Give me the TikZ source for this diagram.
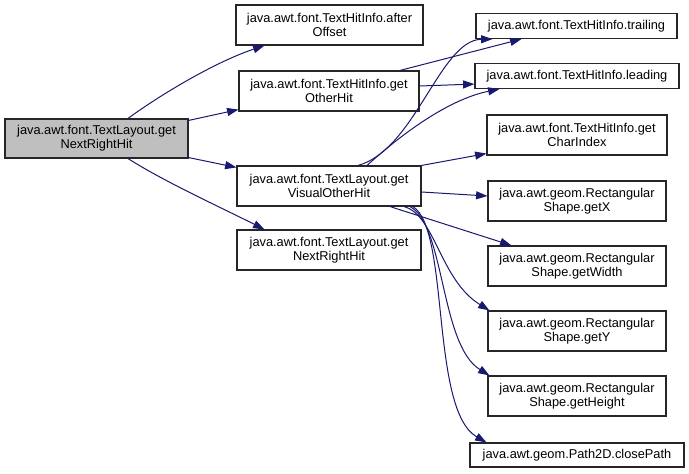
\documentclass[tikz,border=0pt]{standalone}
\usepackage{fontspec}
\setmainfont{Liberation Sans}
\usetikzlibrary{arrows.meta,calc}
\definecolor{edgeblue}{HTML}{191970}
\definecolor{boxgrey}{HTML}{BFBFBF}
\begin{document}
\begin{tikzpicture}[x=0.75pt,y=-0.75pt,
  box/.style={draw=black!85,line width=0.85pt,fill=white,inner sep=0pt,align=center,
    font=\fontsize{9.6}{10.5}\selectfont,minimum height=30pt},
  onebox/.style={box,minimum height=18.75pt},
  edge/.style={draw=edgeblue,line width=0.75pt,-{Triangle[length=8.5pt,width=6pt]}}]
\path[use as bounding box,fill=white] (0,0) rectangle (689,474);

\node[box,fill=boxgrey,minimum width=137.25pt,minimum height=29.25pt] (main) at (96.5,138.5) {java.awt.font.TextLayout.get\\NextRightHit};
\node[box,minimum width=140.25pt] (after) at (329.5,25) {java.awt.font.TextHitInfo.after\\Offset};
\node[box,minimum width=135pt] (other) at (329,91) {java.awt.font.TextHitInfo.get\\OtherHit};
\node[box,minimum width=138pt] (visual) at (329,186) {java.awt.font.TextLayout.get\\VisualOtherHit};
\node[box,minimum width=138pt] (nrh) at (329,250) {java.awt.font.TextLayout.get\\NextRightHit};
\node[onebox,minimum width=150.75pt] (trailing) at (576.5,26) {java.awt.font.TextHitInfo.trailing};
\node[onebox,minimum width=153pt] (leading) at (577,76) {java.awt.font.TextHitInfo.leading};
\node[box,minimum width=135pt] (charidx) at (577,135) {java.awt.font.TextHitInfo.get\\CharIndex};
\node[box,minimum width=133.5pt] (getx) at (577,201) {java.awt.geom.Rectangular\\Shape.getX};
\node[box,minimum width=133.5pt] (getw) at (577,266) {java.awt.geom.Rectangular\\Shape.getWidth};
\node[box,minimum width=133.5pt] (gety) at (577,331) {java.awt.geom.Rectangular\\Shape.getY};
\node[box,minimum width=133.5pt] (geth) at (577,396) {java.awt.geom.Rectangular\\Shape.getHeight};
\node[onebox,minimum width=160.5pt,minimum height=18pt] (close) at (577,455) {java.awt.geom.Path2D.closePath};

% edges from main
\draw[edge] ($(main.north)+(31.5,0)$) .. controls (160,95) and (215,62) .. ($(after.south west)+(29,0)$);
\draw[edge] ($(main.north east)+(0,2)$) -- ($(other.south west)+(0,-2)$);
\draw[edge] ($(main.south east)+(0,-1)$) -- ($(visual.north west)+(0,2)$);
\draw[edge] ($(main.south)+(31.5,0)$) .. controls (165,182) and (220,207) .. ($(nrh.north west)+(28,0)$);

% edges from getOtherHit
\draw[edge] ($(other.north)+(71,0)$) -- ($(trailing.south west)+(46,0)$);
\draw[edge] ($(other.east)+(0,-5)$) -- ($(leading.south west)+(0,-5)$);

% edges from getVisualOtherHit
\draw[edge] ($(visual.north)+(29,0)$) .. controls (415,150) and (440,40) .. ($(trailing.south west)+(17,0)$);
\draw[edge] ($(visual.north)+(38,0)$) .. controls (395,140) and (445,100) .. ($(leading.south west)+(25,0)$);
\draw[edge] (visual.north east) -- ($(charidx.south west)+(0,-2)$);
\draw[edge] ($(visual.east)+(0,6)$) -- ($(getx.west)+(0,-5)$);
\draw[edge] ($(visual.south)+(61,0)$) -- ($(getw.north west)+(24,0)$);
\draw[edge] ($(visual.south)+(75,0)$) .. controls (435,215) and (440,280) .. ($(gety.north west)+(2,0)$);
\draw[edge] ($(visual.south)+(81,0)$) .. controls (445,225) and (440,345) .. ($(geth.north west)+(2,0)$);
\draw[edge] ($(visual.south)+(84,0)$) .. controls (450,230) and (430,410) .. ($(close.north west)+(17,0)$);
\end{tikzpicture}
\end{document}
